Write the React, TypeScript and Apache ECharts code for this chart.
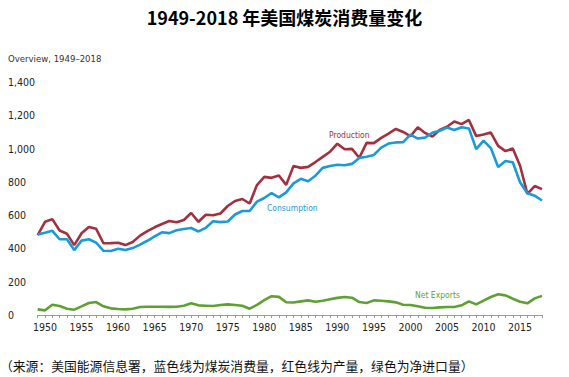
import React, { useEffect, useRef } from "react";
import * as echarts from "echarts";

const years: string[] = [];
for (let y = 1949; y <= 2018; y++) years.push(String(y));

const production = [
  480, 560, 576, 508, 488, 420, 491, 529, 518, 431, 432, 434, 420, 439, 477, 504, 527, 547, 565, 557,
  571, 613, 560, 602, 599, 610, 655, 685, 697, 670, 781, 830, 824, 838, 782, 896, 884, 890, 919, 950,
  981, 1029, 996, 998, 945, 1034, 1033, 1064, 1090, 1118, 1100, 1074, 1128, 1094, 1072, 1112, 1131, 1163, 1147, 1172,
  1075, 1084, 1096, 1016, 985, 1000, 897, 728, 775, 756,
];

const consumption = [
  484, 494, 506, 455, 455, 390, 447, 455, 435, 386, 385, 398, 390, 402, 423, 446, 472, 497, 492, 509,
  517, 523, 502, 524, 563, 558, 562, 604, 625, 625, 681, 703, 733, 707, 737, 791, 818, 804, 837, 884,
  895, 903, 900, 908, 944, 951, 962, 1006, 1030, 1037, 1039, 1084, 1060, 1066, 1095, 1107, 1126, 1112, 1128, 1121,
  997, 1048, 1003, 889, 925, 918, 798, 731, 717, 688,
];

const netExports = [
  34, 28, 62, 54, 38, 32, 52, 72, 78, 52, 40, 36, 34, 38, 48, 50, 50, 50, 49, 50,
  56, 70, 58, 56, 54, 60, 64, 60, 56, 38, 61, 89, 113, 109, 77, 75, 82, 88, 80, 86,
  95, 103, 108, 104, 78, 72, 88, 86, 82, 76, 62, 60, 52, 44, 42, 46, 48, 48, 58, 82,
  64, 86, 108, 125, 118, 98, 80, 70, 100, 115,
];

const title = "1949-2018 年美国煤炭消费量变化";
const subtitle = "Overview, 1949–2018";
const footnote = "（来源：美国能源信息署，蓝色线为煤炭消费量，红色线为产量，绿色为净进口量）";
const seriesNames = ["Production", "Consumption", "Net Exports"];

const NARROW = "'Liberation Sans Narrow', 'Arial Narrow', 'DejaVu Sans Condensed', sans-serif";
const CJK = "'Noto Sans CJK SC', sans-serif";

const RED = "#a3303f";
const BLUE = "#1a9ad8";
const GREEN = "#5fa032";

export default function App() {
  const ref = useRef<HTMLDivElement>(null);
  useEffect(() => {
    document.body.style.margin = "0";
    if (!ref.current) return;
    const chart = echarts.init(ref.current, undefined, { renderer: "svg" });
    const line = (name: string, data: number[], color: string) => ({
      name,
      type: "line",
      data,
      symbol: "none",
      smooth: false,
      lineStyle: { color, width: 2.6 },
      itemStyle: { color },
    });
    chart.setOption({
      animation: false,
      backgroundColor: "#ffffff",
      grid: { left: 37.7, right: 27, top: 82, bottom: 62, containLabel: false },
      xAxis: {
        type: "category",
        data: years,
        boundaryGap: false,
        axisLine: { show: true, lineStyle: { color: "#9a9a9a", width: 1 } },
        axisTick: { show: true, interval: 0, length: 3, lineStyle: { color: "#9a9a9a" } },
        axisLabel: {
          interval: (i: number, v: string) => Number(v) % 5 === 0,
          color: "#222",
          fontFamily: NARROW,
          fontSize: 10.5,
          margin: 6,
        },
        splitLine: { show: false },
      },
      yAxis: {
        type: "value",
        min: 0,
        max: 1400,
        interval: 200,
        axisLine: { show: false },
        axisTick: { show: false },
        splitLine: { show: false },
        axisLabel: {
          align: "left",
          margin: 29.7,
          color: "#222",
          fontFamily: NARROW,
          fontSize: 10.5,
          formatter: (v: number) => v.toLocaleString("en-US"),
        },
      },
      series: [
        line(seriesNames[0], production, RED),
        line(seriesNames[1], consumption, BLUE),
        line(seriesNames[2], netExports, GREEN),
      ],
      graphic: [
        {
          type: "text",
          x: 284.5,
          y: 17,
          style: {
            text: title,
            fontFamily: CJK,
            fontWeight: "bold",
            fontSize: 18,
            fill: "#000",
            align: "center",
            verticalAlign: "middle",
          },
        },
        {
          type: "text",
          x: 8,
          y: 58,
          style: {
            text: subtitle,
            fontFamily: NARROW,
            fontSize: 9.5,
            fill: "#333",
            align: "left",
            verticalAlign: "middle",
          },
        },
        {
          type: "text",
          x: 329,
          y: 135,
          style: { text: seriesNames[0], fontFamily: NARROW, fontSize: 8.5, fill: RED, verticalAlign: "middle" },
        },
        {
          type: "text",
          x: 267,
          y: 208,
          style: { text: seriesNames[1], fontFamily: NARROW, fontSize: 8.5, fill: BLUE, verticalAlign: "middle" },
        },
        {
          type: "text",
          x: 415,
          y: 295,
          style: { text: seriesNames[2], fontFamily: NARROW, fontSize: 8.5, fill: GREEN, verticalAlign: "middle" },
        },
        {
          type: "text",
          x: 0,
          y: 365,
          style: {
            text: footnote,
            fontFamily: CJK,
            fontSize: 12.8,
            fill: "#111",
            align: "left",
            verticalAlign: "middle",
          },
        },
      ],
    });
    return () => chart.dispose();
  }, []);
  return <div ref={ref} style={{ width: 569, height: 377 }} />;
}
